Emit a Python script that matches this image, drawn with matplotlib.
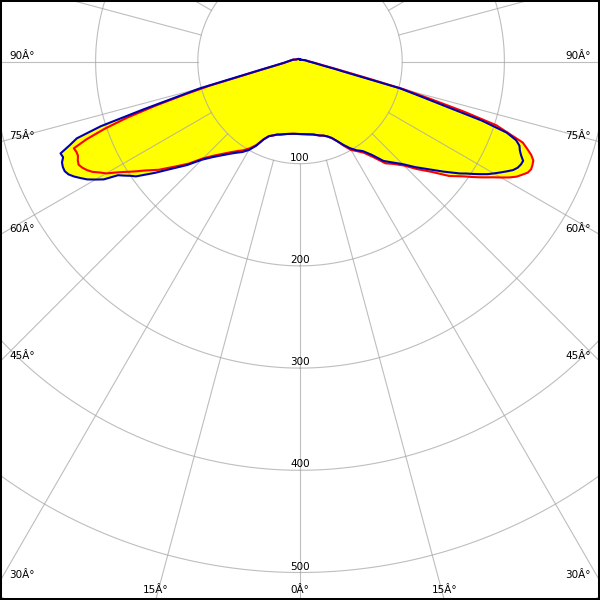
import numpy as np
import matplotlib
matplotlib.use('Agg')
import matplotlib.pyplot as plt
from matplotlib.patches import Rectangle

# gamma angles (deg), one half; 0 = straight down
half = [0, 5, 10, 15, 17.5, 20, 22.5, 25, 27.5, 30, 32.5, 35, 37.5, 40, 42.5,
        45, 47.5, 50, 52.5, 55, 56, 57, 58, 59, 60, 61, 62, 63, 64, 65, 66,
        67, 68, 69, 70, 71, 72, 73, 74, 75, 76, 77, 78, 80, 85, 90, 105, 120,
        150, 180]

# intensities (cd) at -half (left side) and +half (right side)
blue_left = [71, 71, 72, 74, 75, 77, 79, 84, 93, 100, 105, 109, 114, 120, 127,
             136, 150, 163, 179, 196, 200, 205, 210, 224, 231, 238, 243, 248, 252, 254, 254,
             253, 250, 251, 240, 231, 205, 160, 124, 101, 67, 50, 40, 28, 16, 12, 7, 4,
             3, 2]
blue_right = [71, 71.5, 72.5, 75, 76, 78, 81, 86, 92, 98, 103, 107, 115, 127, 134,
              142, 153, 164, 177, 191, 196, 202, 208, 214, 219, 224, 229, 234, 237, 238.5, 239,
              235, 232, 230, 225, 214, 187, 146, 120, 101, 60, 43, 35, 23, 13, 9, 5, 3,
              2, 2]
red_left = [71, 71, 72, 74, 75, 77, 79, 84, 92, 98, 103, 107, 112, 118, 125,
            134, 148, 160, 174, 186, 192, 198, 204, 211, 219, 224, 230, 234, 237, 239, 238,
            236, 236, 237, 222, 202, 178, 148, 118, 92, 62, 47, 38, 27, 16, 12, 7, 4,
            3, 2]
red_right = [71, 71.5, 72.5, 75, 76, 78, 81, 86, 93, 100, 104, 109, 118, 130, 136,
             144, 156, 168, 184, 196, 202, 208, 214, 220, 227, 234, 240, 244, 248, 249.5, 249,
             248, 244, 238, 232, 216, 202, 168, 132, 105, 70, 50, 38, 25, 14, 9, 5, 3,
             2, 2]

rings = [100, 200, 300, 400, 500, 600]
ring_labels = [100, 200, 300, 400, 500]
side_angles = [90, 75, 60, 45, 30]
bottom_angles = [15, 0, -15]

DEG = '\u00c2\u00b0'

h = np.array(half)
gamma = np.radians(np.concatenate([-h[::-1], h[1:]]))
blue = np.concatenate([np.array(blue_left)[::-1], np.array(blue_right)[1:]])
red = np.concatenate([np.array(red_left)[::-1], np.array(red_right)[1:]])

# layout in pixels: centre near the top of the picture
W, H = 600, 600
cx, cy = 300, 61.5
scale = 1.022          # px per cd
rmax = 700
size = 2 * rmax * scale / W

fig = plt.figure(figsize=(6, 6), dpi=100)
ax = fig.add_axes([cx / W - size / 2, 1 - cy / H - size / 2, size, size],
                  projection='polar')
ax.set_theta_zero_location('S')
ax.set_ylim(0, rmax)
ax.set_axis_off()

ax.fill(gamma, blue, color='#ffff00', lw=0, zorder=1)
ax.fill(gamma, red, color='#ffff00', lw=0, zorder=1)

gcol = '#a8a8a8'
t = np.linspace(0, 2 * np.pi, 721)
for v in rings:
    ax.plot(t, np.full_like(t, v), color=gcol, lw=0.8, alpha=0.75, zorder=2)
for a in range(0, 360, 15):
    ax.plot([np.radians(a)] * 2, [100, rmax], color=gcol, lw=0.8, alpha=0.75, zorder=2)

ax.plot(gamma, red, color='#ff0000', lw=1.5, zorder=3)
ax.plot(gamma, blue, color='#0000b0', lw=1.5, zorder=4)

fs = 7.5
for v in ring_labels:
    ax.annotate(str(v), xy=(0, v), xytext=(0, 1), textcoords='offset pixels',
                ha='center', va='bottom', fontsize=fs, zorder=5)

for a in side_angles:
    r = (W / 2) / (scale * np.sin(np.radians(a)))
    ax.annotate(f'{a}{DEG}', xy=(np.radians(-a), r), xytext=(9, 1),
                textcoords='offset pixels', ha='left', va='bottom', fontsize=fs, zorder=5)
    ax.annotate(f'{a}{DEG}', xy=(np.radians(a), r), xytext=(-9, 1),
                textcoords='offset pixels', ha='right', va='bottom', fontsize=fs, zorder=5)

for a in bottom_angles:
    r = (H - cy) / (scale * np.cos(np.radians(a)))
    ax.annotate(f'{abs(a)}{DEG}', xy=(np.radians(-a), r), xytext=(0, 5),
                textcoords='offset pixels', ha='center', va='bottom', fontsize=fs, zorder=5)

fig.add_artist(Rectangle((0, 0), 1, 1, transform=fig.transFigure, fill=False,
                         edgecolor='black', lw=2.9))

fig.savefig('out.png', dpi=100)
